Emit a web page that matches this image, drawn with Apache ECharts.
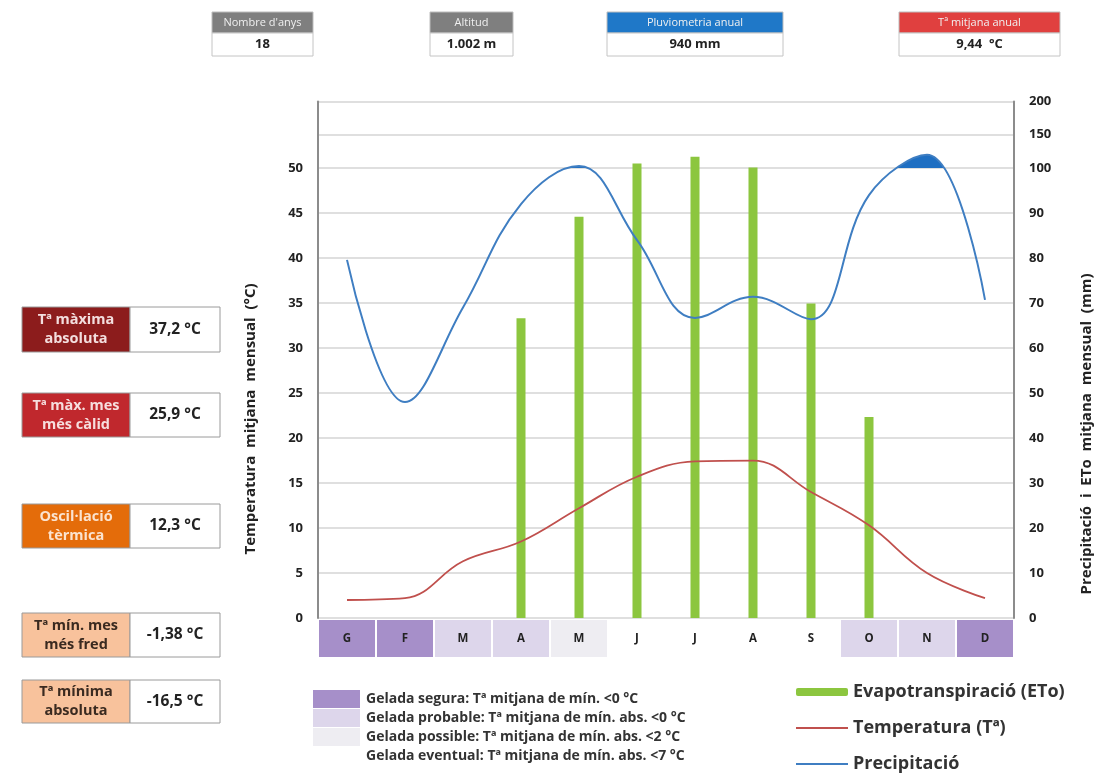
<!DOCTYPE html>
<html>
<head>
<meta charset="utf-8">
<script src="https://cdn.jsdelivr.net/npm/echarts@6/dist/echarts.min.js"></script>
<style>
  html, body { margin: 0; padding: 0; background: #fff; }
  #chart { width: 1100px; height: 776px; }
</style>
</head>
<body>
<div id="chart"></div>
<script>
// dades del climograma
var mesos = ['G', 'F', 'M', 'A', 'M', 'J', 'J', 'A', 'S', 'O', 'N', 'D'];
var gelada = ['segura', 'segura', 'probable', 'probable', 'possible', 'eventual',
  'eventual', 'eventual', 'eventual', 'probable', 'probable', 'segura'];
var temperatura = [2.0, 2.2, 6.3, 8.5, 12.2, 15.7, 17.4, 17.5, 14.0, 10.3, 5.0, 2.2];
var precipitacio = [79.6, 48, 69, 92, 103, 84, 66.7, 71.4, 66.4, 94, 120, 70.7];
var eto = [null, null, null, 66.6, 89.2, 107, 117, 101, 69.9, 44.7, null, null];

var ticksTemp = [0, 5, 10, 15, 20, 25, 30, 35, 40, 45, 50];
var ticksPrec = [0, 10, 20, 30, 40, 50, 60, 70, 80, 90, 100, 150, 200];

var infoSup = [
  { titol: "Nombre d'anys", valor: '18', color: '#7f7f7f' },
  { titol: 'Altitud', valor: '1.002 m', color: '#7f7f7f' },
  { titol: 'Pluviometria anual', valor: '940 mm', color: '#1f78c8' },
  { titol: 'Tª mitjana anual', valor: '9,44  °C', color: '#e0403f' }
];
var infoEsq = [
  { titol: 'Tª màxima\nabsoluta', valor: '37,2 °C', color: '#8c1c1c', text: '#f3dede' },
  { titol: 'Tª màx. mes\nmés càlid', valor: '25,9 °C', color: '#c0282d', text: '#f6dede' },
  { titol: 'Oscil·lació\ntèrmica', valor: '12,3 °C', color: '#e46c0a', text: '#fbe3cf' },
  { titol: 'Tª mín. mes\nmés fred', valor: '-1,38 °C', color: '#f8c29c', text: '#3a2a20' },
  { titol: 'Tª mínima\nabsoluta', valor: '-16,5 °C', color: '#f8c29c', text: '#3a2a20' }
];
var llegendaGelada = [
  { clau: 'segura', text: 'Gelada segura: Tª mitjana de mín. <0 °C' },
  { clau: 'probable', text: 'Gelada probable: Tª mitjana de mín. abs. <0 °C' },
  { clau: 'possible', text: 'Gelada possible: Tª mitjana de mín. abs. <2 °C' },
  { clau: 'eventual', text: 'Gelada eventual: Tª mitjana de mín. abs. <7 °C' }
];

var colorsGelada = {
  segura: '#a68fc9',
  probable: '#ddd6eb',
  possible: '#eeedf2',
  eventual: '#ffffff'
};

// per sobre de 100 mm l'escala es comprimeix (50 mm ocupen K unitats)
var K = 7.4;
function escala(v) {
  if (v == null) return '-';
  return v <= 100 ? v : 100 + (v - 100) * K / 50;
}
function desescala(v) {
  return v <= 100 ? v : Math.round(100 + (v - 100) / K * 50);
}

var FONT = '"Open Sans"';
var chart = echarts.init(document.getElementById('chart'));

// caixes d'informacio
var graf = [];
var posSup = [[212, 101], [430, 83], [607, 176], [899, 161]];
infoSup.forEach(function (d, i) {
  var x = posSup[i][0], w = posSup[i][1];
  graf.push({ type: 'rect', shape: { x: x, y: 12, width: w, height: 21 }, style: { fill: d.color, stroke: '#bdbdbd' } });
  graf.push({ type: 'text', x: x + w / 2, y: 22.5, style: { text: d.titol, fill: '#f0f0f0', font: '11px ' + FONT, align: 'center', verticalAlign: 'middle' } });
  graf.push({ type: 'rect', shape: { x: x, y: 33, width: w, height: 23 }, style: { fill: '#fff', stroke: '#c4c4c4' } });
  graf.push({ type: 'text', x: x + w / 2, y: 44.5, style: { text: d.valor, fill: '#222', font: 'bold 13px ' + FONT, align: 'center', verticalAlign: 'middle' } });
});
var posEsq = [[307, 45], [393, 44], [504, 44], [613, 44], [680, 43]];
infoEsq.forEach(function (d, i) {
  var y = posEsq[i][0], h = posEsq[i][1];
  graf.push({ type: 'rect', shape: { x: 22, y: y, width: 108, height: h }, style: { fill: d.color, stroke: '#9a9a9a' } });
  graf.push({ type: 'text', x: 76, y: y + h / 2, style: { text: d.titol, fill: d.text, font: 'bold 14.5px ' + FONT, align: 'center', verticalAlign: 'middle', lineHeight: 19 } });
  graf.push({ type: 'rect', shape: { x: 130, y: y, width: 90, height: h }, style: { fill: '#fff', stroke: '#9a9a9a' } });
  graf.push({ type: 'text', x: 175, y: y + h / 2, style: { text: d.valor, fill: '#222', font: 'bold 15.5px ' + FONT, align: 'center', verticalAlign: 'middle' } });
});
// llegenda de gelades
llegendaGelada.forEach(function (d, i) {
  var y = 690 + i * 19;
  graf.push({ type: 'rect', shape: { x: 313, y: y, width: 47, height: 18 }, style: { fill: colorsGelada[d.clau] } });
  graf.push({ type: 'text', x: 366, y: y + 9, style: { text: d.text, fill: '#333', font: 'bold 14px ' + FONT, verticalAlign: 'middle' } });
});
// titols dels eixos
graf.push({ type: 'text', x: 251, y: 419, rotation: Math.PI / 2, style: { text: 'Temperatura  mitjana  mensual  (°C)', fill: '#222', font: 'bold 15px ' + FONT, align: 'center', verticalAlign: 'middle' } });
graf.push({ type: 'text', x: 1087, y: 434, rotation: Math.PI / 2, style: { text: 'Precipitació  i  ETo  mitjana  mensual  (mm)', fill: '#222', font: 'bold 15px ' + FONT, align: 'center', verticalAlign: 'middle' } });

var richMes = {};
Object.keys(colorsGelada).forEach(function (k) {
  richMes[k] = {
    backgroundColor: colorsGelada[k], width: 56, height: 37, lineHeight: 37,
    align: 'center', verticalAlign: 'middle', fontWeight: 'bold', fontSize: 11.5,
    fontFamily: FONT, color: '#222'
  };
});

var option = {
  backgroundColor: '#ffffff',
  animation: false,
  textStyle: { fontFamily: FONT },
  grid: { left: 318, right: 86, top: 101.5, bottom: 158 },
  legend: {
    orient: 'vertical', left: 795, top: 683, width: 300, height: 130,
    padding: 0, itemGap: 18,
    itemWidth: 52, itemHeight: 8,
    textStyle: { fontSize: 18, lineHeight: 18, fontWeight: 'bold', color: '#333', fontFamily: FONT },
    data: [
      { name: 'Evapotranspiració (ETo)' },
      { name: 'Temperatura (Tª)', itemStyle: { opacity: 0 } },
      { name: 'Precipitació', itemStyle: { opacity: 0 } }
    ]
  },
  xAxis: {
    type: 'category', data: mesos,
    axisLine: { show: false },
    axisTick: { show: false },
    axisLabel: {
      interval: 0, margin: 2,
      formatter: function (v, i) { return '{' + gelada[i] + '|' + v + '}'; },
      rich: richMes
    }
  },
  yAxis: [{
    type: 'value', min: 0, max: (100 + 2 * K) / 2,
    axisLine: { show: true, lineStyle: { color: '#8c8c8c', width: 2 } },
    axisTick: { show: false },
    splitLine: { show: false },
    axisLabel: { customValues: ticksTemp, color: '#222', fontWeight: 'bold', fontSize: 13, margin: 15 }
  }, {
    type: 'value', min: 0, max: 100 + 2 * K, position: 'right',
    axisLine: { show: true, lineStyle: { color: '#8c8c8c', width: 2 } },
    axisTick: { show: false, customValues: ticksPrec.map(escala) },
    splitLine: { show: true, lineStyle: { color: '#d4d4d4', width: 1.5 } },
    axisLabel: {
      customValues: ticksPrec.map(escala), color: '#222', fontWeight: 'bold', fontSize: 13, margin: 15,
      formatter: function (v) { return String(desescala(v)); }
    }
  }],
  series: [{
    name: 'Evapotranspiració (ETo)', type: 'bar', yAxisIndex: 1,
    barWidth: 9, itemStyle: { color: '#8cc63f' },
    data: eto.map(escala)
  }, {
    name: 'Temperatura (Tª)', type: 'line', yAxisIndex: 0, smooth: 0.4,
    symbol: 'none', lineStyle: { color: '#c0504d', width: 1.8 },
    itemStyle: { color: '#c0504d' },
    data: temperatura, z: 4
  }, {
    name: 'Precipitació', type: 'line', yAxisIndex: 1, smooth: 0.4,
    symbol: 'none', lineStyle: { color: '#3f7ec2', width: 2 },
    itemStyle: { color: '#3f7ec2' },
    areaStyle: { origin: 100, opacity: 1, color: 'rgba(0,0,0,0)' },
    data: precipitacio.map(escala), z: 5
  }],
  graphic: graf
};

chart.setOption(option);

// l'excedent per sobre de 100 mm es pinta en blau fosc
var y100 = chart.convertToPixel({ yAxisIndex: 1 }, 100);
chart.setOption({
  series: [{}, {}, {
    areaStyle: {
      color: new echarts.graphic.LinearGradient(0, 0, 0, y100, [
        { offset: 0, color: '#1f6fc2' },
        { offset: 0.999, color: '#1f6fc2' },
        { offset: 1, color: 'rgba(255,255,255,0)' }
      ], true)
    }
  }]
});
</script>
</body>
</html>
